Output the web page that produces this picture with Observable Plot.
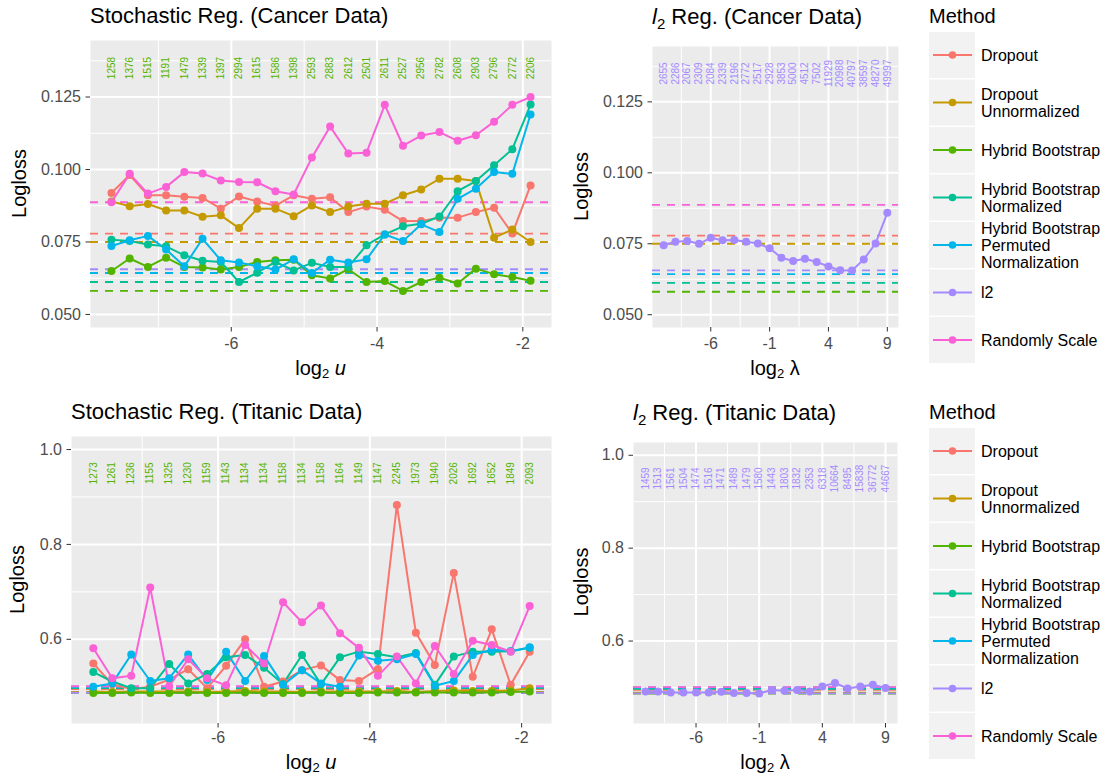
<!DOCTYPE html>
<html><head><meta charset="utf-8">
<script src="https://cdn.jsdelivr.net/npm/d3@7"></script>
<script src="https://cdn.jsdelivr.net/npm/@observablehq/plot@0.6"></script>
<style>
body{margin:0;background:#fff;}
#root{position:relative;width:1105px;height:776px;overflow:hidden;font-family:"Liberation Sans",Arial,sans-serif;}
</style></head><body><div id="root"></div><script>
const FONT = "Liberation Sans, Arial, sans-serif";
const methods = ["Dropout","Dropout Unnormalized","Hybrid Bootstrap","Hybrid Bootstrap Normalized","Hybrid Bootstrap Permuted Normalization","l2","Randomly Scale"];
const methodColors = ["#F8766D","#C49A00","#53B400","#00C094","#00B6EB","#A58AFF","#FB61D7"];
const legendLabels = [["Dropout"],["Dropout","Unnormalized"],["Hybrid Bootstrap"],["Hybrid Bootstrap","Normalized"],["Hybrid Bootstrap","Permuted","Normalization"],["l2"],["Randomly Scale"]];

// x positions
const log2u = [-7.644,-7.394,-7.144,-6.894,-6.644,-6.394,-6.144,-5.894,-5.644,-5.394,-5.144,-4.894,-4.644,-4.394,-4.144,-3.894,-3.644,-3.394,-3.144,-2.894,-2.644,-2.394,-2.144,-1.894];
const log2lambda = [-10,-9,-8,-7,-6,-5,-4,-3,-2,-1,0,1,2,3,4,5,6,7,8,9];

// Cancer data
const cancerDropout = [0.0919,0.0981,0.0911,0.0911,0.0906,0.0902,0.0865,0.0907,0.0890,0.0875,0.0911,0.0899,0.0904,0.0853,0.0872,0.0861,0.0822,0.0822,0.0834,0.0834,0.0853,0.0868,0.0779,0.0945];
const cancerDropoutUnnorm = [0.0890,0.0873,0.0881,0.0859,0.0859,0.0837,0.0842,0.0798,0.0865,0.0865,0.0839,0.0876,0.0853,0.0872,0.0882,0.0882,0.0911,0.0931,0.0968,0.0968,0.0960,0.0765,0.0793,0.0750];
const cancerHB = [0.0650,0.0693,0.0664,0.0696,0.0664,0.0662,0.0655,0.0664,0.0681,0.0687,0.0689,0.0635,0.0624,0.0656,0.0612,0.0615,0.0581,0.0612,0.0627,0.0607,0.0658,0.0639,0.0629,0.0616];
const cancerHBNorm = [0.0758,0.0753,0.0741,0.0735,0.0704,0.0685,0.0681,0.0612,0.0644,0.0681,0.0652,0.0678,0.0664,0.0664,0.0739,0.0776,0.0804,0.0813,0.0838,0.0925,0.0960,0.1015,0.1070,0.1224];
const cancerHBPerm = [0.0736,0.0756,0.0771,0.0724,0.0666,0.0761,0.0687,0.0679,0.0666,0.0655,0.0690,0.0643,0.0689,0.0679,0.0690,0.0776,0.0753,0.0811,0.0784,0.0899,0.0934,0.0991,0.0985,0.1190];
const cancerRandScale = [0.0887,0.0985,0.0917,0.0940,0.0991,0.0986,0.0962,0.0957,0.0956,0.0925,0.0914,0.1041,0.1148,0.1055,0.1058,0.1223,0.1082,0.1117,0.1129,0.1099,0.1118,0.1165,0.1223,0.1250];
const cancerL2 = [0.0745,0.0757,0.0760,0.0750,0.0771,0.0762,0.0763,0.0757,0.0751,0.0734,0.0701,0.0689,0.0697,0.0686,0.0670,0.0657,0.0656,0.0695,0.0751,0.0859];
const cancerStochCounts = [1258,1376,1515,1191,1479,1339,1397,2994,1615,1586,1398,2593,2883,2612,2501,2611,2527,2956,2782,2608,2903,2796,2772,2206];
const cancerL2Counts = [2655,2286,2067,2309,2084,2339,2196,2772,2517,2928,3853,5000,4512,7502,11929,20988,40797,38597,48270,49997];

// Titanic data
const titanicDropout = [0.549,0.505,0.495,0.500,0.515,0.537,0.497,0.544,0.600,0.500,0.511,0.535,0.545,0.514,0.512,0.537,0.883,0.614,0.546,0.740,0.521,0.621,0.504,0.574];
const titanicDropoutUnnorm = [0.490,0.489,0.490,0.490,0.490,0.490,0.489,0.490,0.491,0.490,0.490,0.489,0.490,0.490,0.490,0.490,0.491,0.489,0.491,0.492,0.491,0.491,0.492,0.497];
const titanicHB = [0.487,0.487,0.488,0.487,0.487,0.488,0.487,0.487,0.488,0.487,0.487,0.487,0.488,0.487,0.487,0.488,0.488,0.488,0.488,0.488,0.488,0.488,0.489,0.490];
const titanicHBNorm = [0.531,0.511,0.497,0.497,0.548,0.507,0.527,0.562,0.567,0.540,0.506,0.567,0.505,0.562,0.574,0.569,0.562,0.571,0.504,0.564,0.574,0.574,0.575,0.582];
const titanicHBPerm = [0.500,0.507,0.568,0.512,0.518,0.568,0.514,0.574,0.512,0.565,0.504,0.535,0.507,0.500,0.566,0.555,0.558,0.569,0.502,0.512,0.567,0.578,0.575,0.583];
const titanicRandScale = [0.581,0.518,0.523,0.709,0.501,0.558,0.518,0.503,0.588,0.549,0.678,0.636,0.671,0.613,0.582,0.523,0.564,0.507,0.586,0.527,0.597,0.588,0.574,0.670];
const titanicL2 = [0.4916,0.4916,0.4895,0.4895,0.4895,0.4895,0.4909,0.4881,0.4881,0.4873,0.4946,0.4931,0.4946,0.4916,0.5024,0.5097,0.4980,0.5024,0.5060,0.4989];
const titanicStochCounts = [1273,1261,1236,1155,1325,1230,1159,1143,1134,1134,1158,1134,1158,1164,1149,1147,2245,1973,1940,2026,1692,1652,1849,2093];
const titanicL2Counts = [1459,1513,1561,1504,1474,1516,1471,1489,1479,1580,1443,1803,1832,2353,6318,10664,8495,15838,36772,44667];

// tick values
const uTicks = [-6,-4,-2], uMinor = [-7,-5,-3];
const lamTicks = [-6,-1,4,9], lamMinor = [-8.5,-3.5,1.5,6.5];
const cancerYTicks = [0.050,0.075,0.100,0.125], cancerYMinor = [0.0625,0.0875,0.1125,0.1375];
const titanicYTicks = [0.6,0.8,1.0], titanicYMinor = [0.5,0.7,0.9];

const root = document.getElementById("root");
const colorOf = m => methodColors[methods.indexOf(m)];

function stochSeries(arrs){ // 6 stochastic methods (no l2)
  const ms = methods.filter(m => m !== "l2");
  return ms.map((m,k)=>({m, values: arrs[k]}));
}
const cancerStoch = stochSeries([cancerDropout,cancerDropoutUnnorm,cancerHB,cancerHBNorm,cancerHBPerm,cancerRandScale]);
const titanicStoch = stochSeries([titanicDropout,titanicDropoutUnnorm,titanicHB,titanicHBNorm,titanicHBPerm,titanicRandScale]);
function dashesFor(stoch, l2){
  const all = stoch.concat([{m:"l2", values:l2}]);
  return methods.map(m => ({m, y: d3.min(all.find(s=>s.m===m).values)}));
}
const cancerDashes = dashesFor(cancerStoch, cancerL2);
const titanicDashes = dashesFor(titanicStoch, titanicL2);

function makePanel(o){
  const pts = [];
  o.series.forEach(s => s.values.forEach((v,i)=>pts.push({x:o.xs[i], y:v, m:s.m})));
  const plot = Plot.plot({
    width:o.width, height:o.height, marginLeft:o.ml, marginRight:o.mr, marginTop:o.mt, marginBottom:o.mb,
    style:{fontFamily:FONT, background:"transparent", overflow:"visible"},
    x:{domain:o.xDomain, axis:null},
    y:{domain:o.yDomain, axis:null},
    color:{domain:methods, range:methodColors},
    marks:[
      Plot.frame({fill:"#EBEBEB", stroke:"none"}),
      Plot.ruleY(o.yMinor,{stroke:"#FFFFFF", strokeWidth:1}),
      Plot.ruleX(o.xMinor,{stroke:"#FFFFFF", strokeWidth:1}),
      Plot.ruleY(o.yTicks,{stroke:"#FFFFFF", strokeWidth:2}),
      Plot.ruleX(o.xTicks,{stroke:"#FFFFFF", strokeWidth:2}),
      Plot.ruleY(o.dashes,{y:"y", stroke:"m", strokeWidth:1.8, strokeDasharray:"8,7"}),
      Plot.line(pts,{x:"x", y:"y", z:"m", stroke:"m", strokeWidth:2}),
      Plot.dot(pts,{x:"x", y:"y", fill:"m", r:4}),
      Plot.text(o.counts,{x:(d,i)=>o.xs[i], y:()=>o.labelY, text:d=>String(d), rotate:-90, fill:o.countColor, fontSize:10}),
      Plot.axisX({ticks:o.xTicks, tickSize:4.5, tickPadding:o.xPad, fontSize:16, fill:"#4D4D4D", stroke:"#333333", tickFormat:d=>String(d), label:null}),
      Plot.axisY({ticks:o.yTicks, tickSize:4.5, tickPadding:5, fontSize:16, fill:"#4D4D4D", stroke:"#333333", tickFormat:o.yFmt, label:null})
    ]
  });
  plot.style.position = "absolute";
  plot.style.left = o.left + "px";
  plot.style.top = o.top + "px";
  root.appendChild(plot);
}

const uDomain = [-7.9315,-1.6065], lamDomain = [-10.95,9.95];
const cancerYDomain = [0.0455,0.1445], titanicYDomain = [0.4225,1.0275];

// Top-left
makePanel({left:0, top:0, width:560, height:396, ml:90, mr:9, mt:40, mb:69, xPad:6,
  xs:log2u, series:cancerStoch, dashes:cancerDashes, counts:cancerStochCounts, countColor:colorOf("Hybrid Bootstrap"), labelY:0.135,
  xDomain:uDomain, yDomain:cancerYDomain, xTicks:uTicks, xMinor:uMinor, yTicks:cancerYTicks, yMinor:cancerYMinor, yFmt:d3.format(".3f")});
// Top-right
makePanel({left:600, top:0, width:300, height:396, ml:52, mr:2, mt:46, mb:69, xPad:6,
  xs:log2lambda, series:[{m:"l2", values:cancerL2}], dashes:cancerDashes, counts:cancerL2Counts, countColor:colorOf("l2"), labelY:0.135,
  xDomain:lamDomain, yDomain:cancerYDomain, xTicks:lamTicks, xMinor:lamMinor, yTicks:cancerYTicks, yMinor:cancerYMinor, yFmt:d3.format(".3f")});
// Bottom-left
makePanel({left:0, top:396, width:560, height:380, ml:71, mr:9, mt:40, mb:53, xPad:4,
  xs:log2u, series:titanicStoch, dashes:titanicDashes, counts:titanicStochCounts, countColor:colorOf("Hybrid Bootstrap"), labelY:0.95,
  xDomain:uDomain, yDomain:titanicYDomain, xTicks:uTicks, xMinor:uMinor, yTicks:titanicYTicks, yMinor:titanicYMinor, yFmt:d3.format(".1f")});
// Bottom-right
makePanel({left:600, top:396, width:300, height:380, ml:33, mr:3, mt:46, mb:53, xPad:4,
  xs:log2lambda, series:[{m:"l2", values:titanicL2}], dashes:titanicDashes, counts:titanicL2Counts, countColor:colorOf("l2"), labelY:0.95,
  xDomain:lamDomain, yDomain:titanicYDomain, xTicks:lamTicks, xMinor:lamMinor, yTicks:titanicYTicks, yMinor:titanicYMinor, yFmt:d3.format(".1f")});

// Overlay: titles, axis titles, legends
const svg = d3.select(root).append("svg")
  .attr("width",1105).attr("height",776)
  .style("position","absolute").style("left","0px").style("top","0px")
  .style("pointer-events","none").style("font-family",FONT);

function title(x,y,parts){
  const t = svg.append("text").attr("x",x).attr("y",y).attr("font-size",22).attr("fill","#000");
  parts.forEach(p=>{
    const ts = t.append("tspan").text(p.t);
    if (p.italic) ts.attr("font-style","italic");
    if (p.sub) ts.attr("font-size",15).attr("dy",p.dy);
    else if (p.dy) ts.attr("dy",p.dy);
  });
}
title(90,23,[{t:"Stochastic Reg. (Cancer Data)"}]);
title(652,24,[{t:"l",italic:true},{t:"2",sub:true,dy:5},{t:" Reg. (Cancer Data)",dy:-5}]);
title(71,419,[{t:"Stochastic Reg. (Titanic Data)"}]);
title(633,420,[{t:"l",italic:true},{t:"2",sub:true,dy:5},{t:" Reg. (Titanic Data)",dy:-5}]);

function xTitle(cx,y,sym,italicSym){
  const t = svg.append("text").attr("x",cx).attr("y",y).attr("text-anchor","middle").attr("font-size",20).attr("fill","#000");
  t.append("tspan").text("log");
  t.append("tspan").text("2").attr("font-size",13).attr("dy",3);
  const s = t.append("tspan").text("\u00A0"+sym).attr("dy",-3);
  if (italicSym) s.attr("font-style","italic");
}
xTitle(320.5,375,"u",true);
xTitle(775,375,"\u03BB",false);
xTitle(311,769,"u",true);
xTitle(765,769,"\u03BB",false);

function yTitle(x,cy){
  svg.append("text").attr("transform",`translate(${x},${cy}) rotate(-90)`)
    .attr("text-anchor","middle").attr("font-size",20).attr("fill","#000").text("Logloss");
}
yTitle(26,183.5); yTitle(588,186.5); yTitle(24,579.5); yTitle(588,582);

function legend(oy){
  svg.append("text").attr("x",929).attr("y",oy+23).attr("font-size",20).attr("fill","#000").text("Method");
  methods.forEach((m,k)=>{
    const top = oy + 32 + 47.5*k, cy = top + 23;
    svg.append("rect").attr("x",929).attr("y",top).attr("width",46).attr("height",46).attr("fill","#F2F2F2");
    svg.append("line").attr("x1",933).attr("x2",972).attr("y1",cy).attr("y2",cy).attr("stroke",methodColors[k]).attr("stroke-width",2);
    svg.append("circle").attr("cx",952.5).attr("cy",cy).attr("r",3.8).attr("fill",methodColors[k]);
    const lines = legendLabels[k];
    const lh = 17.3;
    const t = svg.append("text").attr("font-size",16).attr("fill","#000");
    lines.forEach((ln,j)=>{
      t.append("tspan").attr("x",981).attr("y", cy + 5.8 + (j - (lines.length-1)/2)*lh).text(ln);
    });
  });
}
legend(0); legend(396);
</script></body></html>
